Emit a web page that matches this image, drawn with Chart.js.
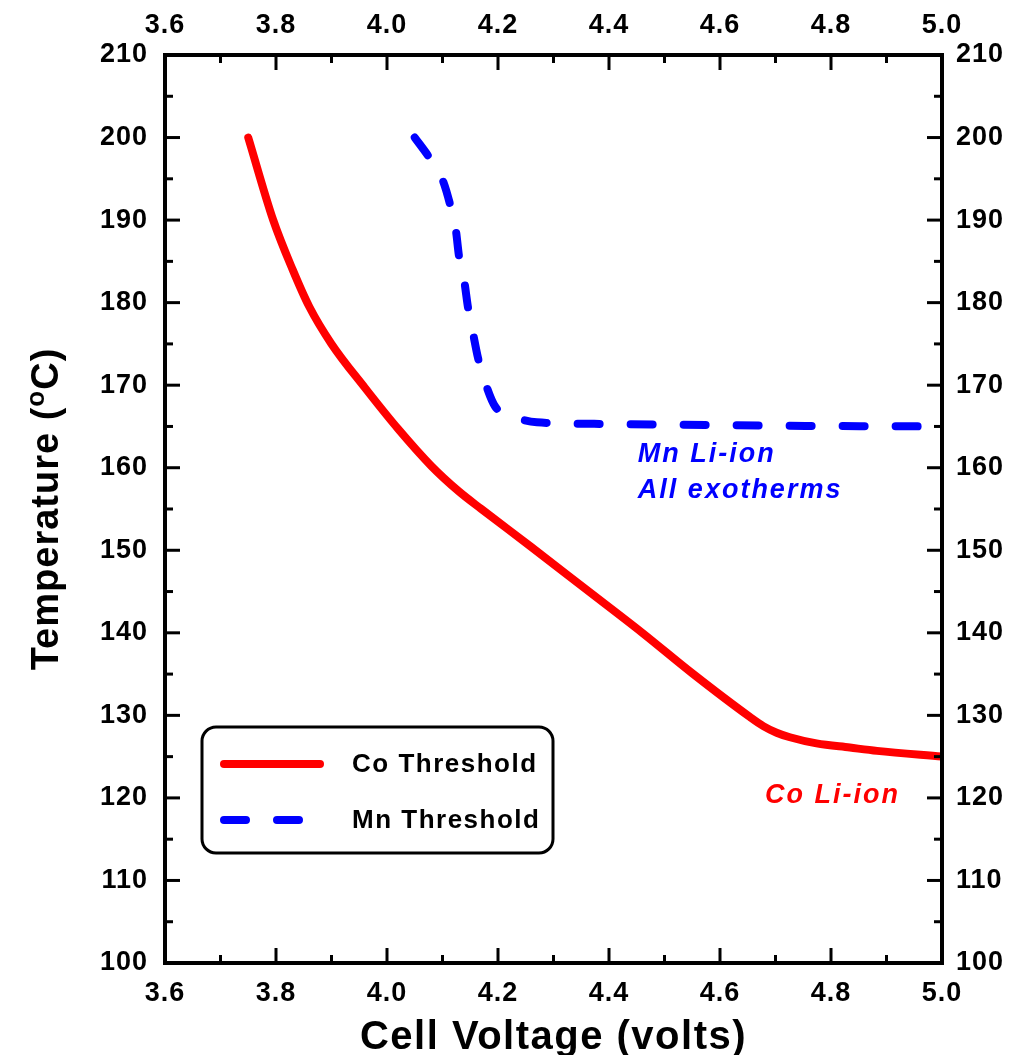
<!DOCTYPE html>
<html>
<head>
<meta charset="utf-8">
<script src="https://cdn.jsdelivr.net/npm/chart.js@4.4.0/dist/chart.umd.min.js"></script>
<style>
  html, body { margin: 0; padding: 0; background: #fff; }
  #wrap { width: 1015px; height: 1055px; }
</style>
</head>
<body>
<div id="wrap"><canvas id="myChart" width="1015" height="1055"></canvas></div>
<script>
// values
const coVoltage = [3.75, 3.795, 3.83, 3.86, 3.9, 3.96, 4.02, 4.08, 4.13, 4.17, 4.26, 4.36, 4.46, 4.55, 4.654, 4.678, 4.702, 4.726, 4.774, 4.834, 4.883, 5.0];
const coTemp = [200, 190, 184, 179.5, 175, 169.7, 164.7, 160.2, 157.1, 155, 150.4, 145.2, 140, 135.1, 129.8, 128.7, 127.9, 127.35, 126.6, 126.1, 125.7, 125];

const mnVoltage = [4.05, 4.077, 4.10, 4.114, 4.124, 4.13, 4.139, 4.146, 4.155, 4.164, 4.177, 4.195, 4.236, 4.27, 4.4, 4.6, 4.8, 5.0];
const mnTemp = [200, 197.5, 194.9, 191.8, 188.8, 185.5, 182.7, 179.4, 176.3, 173.3, 170.3, 167.4, 166.0, 165.5, 165.3, 165.15, 165.05, 165.0];

const voltageTicks = [3.6, 3.8, 4.0, 4.2, 4.4, 4.6, 4.8, 5.0];
const tempTicks = [100, 110, 120, 130, 140, 150, 160, 170, 180, 190, 200, 210];

const FONT = "'Liberation Sans', Arial, sans-serif";
const tickFont = { family: FONT, size: 27, weight: "bold" };

const ctx = document.getElementById("myChart").getContext("2d");

const toPoints = (xs, ys) => xs.map((v, i) => ({ x: v, y: ys[i] }));

// inward ticks, frame, legend box, axis titles and notes
const decor = {
  id: "decor",
  beforeDraw(chart) {
    chart.ctx.letterSpacing = "1px";
  },
  afterDraw(chart) {
    const { ctx, chartArea: a, scales } = chart;
    const sx = scales.x, sy = scales.y;
    const seg = (x1, y1, x2, y2) => { ctx.beginPath(); ctx.moveTo(x1, y1); ctx.lineTo(x2, y2); ctx.stroke(); };

    ctx.save();
    ctx.strokeStyle = "#000";
    ctx.lineWidth = 3;
    voltageTicks.forEach((v, i) => {
      const px = sx.getPixelForValue(v);
      seg(px, a.bottom, px, a.bottom - 15);
      seg(px, a.top, px, a.top + 15);
      if (i < voltageTicks.length - 1) {
        const mx = sx.getPixelForValue((v + voltageTicks[i + 1]) / 2);
        seg(mx, a.bottom, mx, a.bottom - 8);
        seg(mx, a.top, mx, a.top + 8);
      }
    });
    tempTicks.forEach((v, i) => {
      const py = sy.getPixelForValue(v);
      seg(a.left, py, a.left + 15, py);
      seg(a.right, py, a.right - 15, py);
      if (i < tempTicks.length - 1) {
        const my = sy.getPixelForValue((v + tempTicks[i + 1]) / 2);
        seg(a.left, my, a.left + 8, my);
        seg(a.right, my, a.right - 8, my);
      }
    });
    ctx.lineWidth = 4;
    ctx.strokeRect(a.left, a.top, a.right - a.left, a.bottom - a.top);

    // legend
    const lx = a.left + 37, ly = a.top + 672;
    ctx.lineWidth = 3;
    ctx.fillStyle = "#fff";
    ctx.beginPath();
    ctx.roundRect(lx, ly, 351, 126, 14);
    ctx.fill();
    ctx.stroke();
    ctx.font = "bold 26px " + FONT;
    ctx.letterSpacing = "1.5px";
    ctx.textBaseline = "middle";
    ctx.textAlign = "left";
    chart.data.datasets.forEach((ds, i) => {
      const yy = ly + 37 + i * 56;
      ctx.strokeStyle = ds.borderColor;
      ctx.lineWidth = ds.borderWidth;
      ctx.lineCap = "round";
      ctx.setLineDash(ds.borderDash || []);
      seg(lx + 22, yy, lx + 118, yy);
      ctx.setLineDash([]);
      ctx.fillStyle = "#000";
      ctx.fillText(ds.label, lx + 150, yy + 1);
    });

    // notes on the plot
    ctx.font = "italic bold 27px " + FONT;
    ctx.letterSpacing = "2px";
    ctx.textBaseline = "alphabetic";
    ctx.fillStyle = "#0000ff";
    ctx.fillText("Mn Li-ion", sx.getPixelForValue(4.452), sy.getPixelForValue(160.7));
    ctx.fillText("All exotherms", sx.getPixelForValue(4.452), sy.getPixelForValue(156.3));
    ctx.fillStyle = "#ff0000";
    ctx.fillText("Co Li-ion", sx.getPixelForValue(4.681), sy.getPixelForValue(119.4));

    // axis titles
    ctx.fillStyle = "#000";
    ctx.font = "bold 40px " + FONT;
    ctx.letterSpacing = "1.5px";
    ctx.textAlign = "center";
    ctx.fillText("Cell Voltage (volts)", (a.left + a.right) / 2, 1049);

    ctx.letterSpacing = "1px";
    ctx.translate(58, (a.top + a.bottom) / 2);
    ctx.rotate(-Math.PI / 2);
    ctx.textAlign = "left";
    const p1 = "Temperature (", p2 = "o", p3 = "C)";
    ctx.font = "bold 38px " + FONT;
    const w1 = ctx.measureText(p1).width, w3 = ctx.measureText(p3).width;
    ctx.font = "bold 26px " + FONT;
    const w2 = ctx.measureText(p2).width;
    let cx = -(w1 + w2 + w3) / 2;
    ctx.font = "bold 38px " + FONT;
    ctx.fillText(p1, cx, 0);
    cx += w1;
    ctx.font = "bold 26px " + FONT;
    ctx.fillText(p2, cx, -14);
    cx += w2;
    ctx.font = "bold 38px " + FONT;
    ctx.fillText(p3, cx, 0);
    ctx.restore();
  }
};

const xAxis = (position, size, padding) => ({
  type: "linear",
  position,
  min: 3.6,
  max: 5.0,
  afterBuildTicks: s => { s.ticks = voltageTicks.map(v => ({ value: v })); },
  afterFit: s => { s.height = size; },
  grid: { display: false, drawTicks: false },
  border: { display: false },
  ticks: { font: tickFont, color: "#000", padding, maxRotation: 0, autoSkip: false, callback: v => v.toFixed(1) },
});

const yAxis = (position, size, padding) => ({
  type: "linear",
  position,
  min: 100,
  max: 210,
  afterBuildTicks: s => { s.ticks = tempTicks.map(v => ({ value: v })); },
  afterFit: s => { s.width = size; },
  grid: { display: false, drawTicks: false },
  border: { display: false },
  ticks: { font: tickFont, color: "#000", padding, autoSkip: false, callback: v => String(v) },
});

new Chart(ctx, {
  type: "line",
  data: {
    datasets: [
      {
        label: "Co Threshold",
        data: toPoints(coVoltage, coTemp),
        borderColor: "#ff0000",
        borderWidth: 8,
        borderCapStyle: "round",
        borderJoinStyle: "round",
        cubicInterpolationMode: "monotone",
        pointRadius: 0,
        xAxisID: "x",
        yAxisID: "y",
      },
      {
        label: "Mn Threshold",
        data: toPoints(mnVoltage, mnTemp),
        borderColor: "#0000ff",
        borderWidth: 8,
        borderDash: [22, 31],
        borderCapStyle: "round",
        borderJoinStyle: "round",
        cubicInterpolationMode: "monotone",
        pointRadius: 0,
        xAxisID: "x",
        yAxisID: "y",
      },
    ],
  },
  options: {
    responsive: false,
    animation: false,
    layout: { padding: 0 },
    plugins: { legend: { display: false }, tooltip: { enabled: false } },
    scales: {
      x: xAxis("bottom", 92, 14),
      x2: xAxis("top", 55, 13),
      y: yAxis("left", 165, 17),
      y2: yAxis("right", 73, 14),
    },
  },
  plugins: [decor],
});
</script>
</body>
</html>
